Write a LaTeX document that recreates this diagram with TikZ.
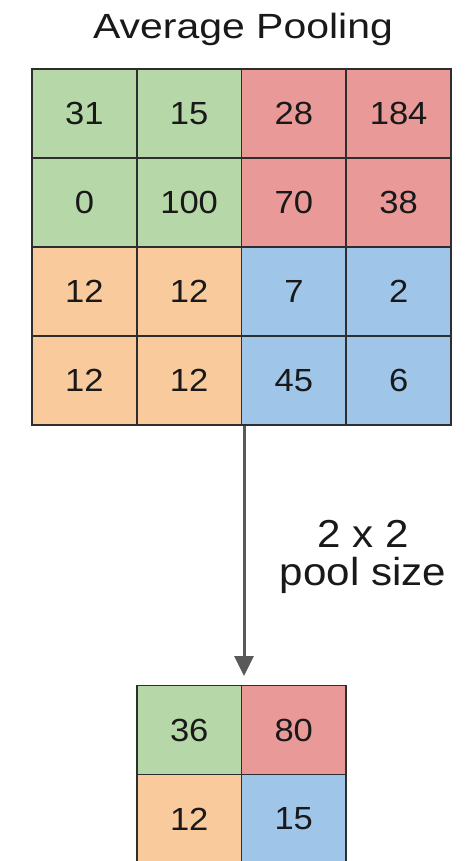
\documentclass[tikz,border=0pt]{standalone}
\usepackage{fontspec}
\setmainfont[FakeStretch=1.08]{Liberation Sans}
\newfontfamily\widefont[FakeStretch=1.17]{Liberation Sans}
\usetikzlibrary{arrows.meta}
\definecolor{cgreen}{HTML}{B6D7A8}
\definecolor{cred}{HTML}{EA9999}
\definecolor{corange}{HTML}{F9CB9C}
\definecolor{cblue}{HTML}{9FC5E8}
\definecolor{cborder}{HTML}{2E2E2E}
\definecolor{carrow}{HTML}{595959}
\tikzset{
  cellbox/.style={draw=cborder, line width=1.6pt, minimum width=104.75pt, minimum height=89pt, inner sep=0pt, outer sep=0pt, font=\fontsize{32}{32}\selectfont, text=black!90},
  smallcell/.style={draw=cborder, line width=1.6pt, minimum width=104.5pt, minimum height=89pt, inner sep=0pt, outer sep=0pt, font=\fontsize{32}{32}\selectfont, text=black!90},
  lbl/.style={font=\fontsize{39}{39}\selectfont, text=black!90, inner sep=0pt, anchor=base},
  titlelbl/.style={font=\widefont\fontsize{35}{35}\selectfont, text=black!90, inner sep=0pt, anchor=base},
  poolarrow/.style={draw=carrow, line width=3pt, -{Triangle[width=19pt,length=20pt]}}
}
\newcommand{\cv}[1]{\raisebox{-3pt}{#1}}
\begin{document}
\begin{tikzpicture}[x=1pt,y=-1pt]
\useasboundingbox (0,0) rectangle (471,861);
\node[titlelbl] (title) at (243,39) {Average Pooling};
% top grid
\def\cw{104.75}
\def\ch{89}
\foreach \r/\c/\col/\v in {
 1/1/cgreen/31, 1/2/cgreen/15, 1/3/cred/28, 1/4/cred/184,
 2/1/cgreen/0, 2/2/cgreen/100, 2/3/cred/70, 2/4/cred/38,
 3/1/corange/12, 3/2/corange/12, 3/3/cblue/7, 3/4/cblue/2,
 4/1/corange/12, 4/2/corange/12, 4/3/cblue/45, 4/4/cblue/6}{
  \node[cellbox, fill=\col] (t\r\c) at ({32+(\c-0.5)*\cw},{69+(\r-0.5)*\ch}) {\cv{\v}};
}
% bottom grid
\node[smallcell, fill=cgreen] (b11) at (189.25,730) {\cv{36}};
\node[smallcell, fill=cred] (b12) at (293.75,730) {\cv{80}};
\node[smallcell, fill=corange] (b21) at (189.25,819) {\cv{12}};
\node[smallcell, fill=cblue] (b22) at (293.75,819) {\cv{15}};
% arrow
\coordinate (astart) at (244,426);
\coordinate (aend) at (244,676);
\draw[poolarrow] (astart) -- (aend);
\node[lbl] (size) at (363,547) {2 x 2};
\node[lbl] (pool) at (363,585) {pool size};
\end{tikzpicture}
\end{document}
